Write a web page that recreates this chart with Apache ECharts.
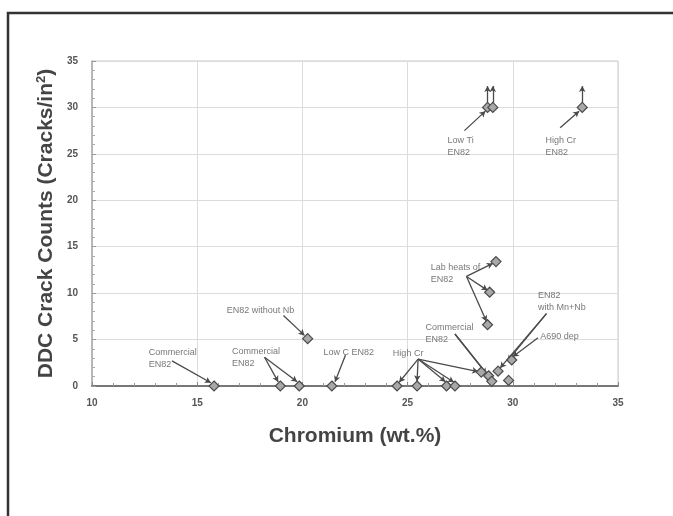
<!DOCTYPE html>
<html><head><meta charset="utf-8">
<script src="https://cdn.jsdelivr.net/npm/echarts@6/dist/echarts.min.js"></script>
<style>html,body{margin:0;padding:0;background:#fff}#c{width:673px;height:516px}</style>
</head><body><div id="c"></div>
<script>
// ---- data (Chromium wt.% vs DDC crack counts) ----
const chromium = [15.8, 18.95, 19.85, 20.25, 21.4, 24.5, 25.45, 26.85, 27.25, 28.5, 28.85, 29.0, 29.3, 29.8, 29.95, 28.8, 28.9, 29.2];
const cracks   = [0,    0,     0,     5.1,   0,    0,    0,     0,     0,     1.5,  1.1,   0.5,  1.6,  0.6,  2.8,   6.6,  10.1, 13.4];
// off-scale points (>= 30, shown with up arrows)
const offChromium = [28.8, 29.05, 33.3];
const offCracks   = [30, 30, 30];
const offArrowTop = [32.3, 32.3, 32.3];

// axis ticks
const xTicks = [10, 15, 20, 25, 30, 35];
const yTicks = [0, 5, 10, 15, 20, 25, 30, 35];

// annotation labels (text anchored top-left at data coords)
const noteText = ['Commercial\nEN82', 'Commercial\nEN82', 'EN82 without Nb', 'Low C EN82', 'High Cr',
                  'Commercial\nEN82', 'Lab heats of\nEN82', 'Low Ti\nEN82', 'High Cr\nEN82', 'EN82\nwith Mn+Nb', 'A690 dep'];
const noteX    = [12.7, 16.65, 16.4, 21.0, 24.3, 25.85, 26.1, 26.9, 31.55, 31.2, 31.3];
const noteY    = [4.3,  4.4,   8.8,  4.3,  4.1,  6.95,  13.4, 27.1, 27.1,  10.4, 6.0];

// annotation leader arrows: from -> to (data coords)
const arrowFromX = [13.8, 18.2, 18.2, 19.1, 22.05, 25.5, 25.5, 25.5, 25.5, 25.5, 27.25, 27.25, 27.8, 27.8, 27.8, 27.7, 32.25, 31.6, 31.6, 31.2];
const arrowFromY = [2.7,  3.1,  3.1,  7.6,  3.35,  2.9,  2.9,  2.9,  2.9,  2.9,  5.6,   5.6,   11.8, 11.8, 11.8, 27.5, 27.8,  7.8,  7.8,  5.2];
const arrowToX   = [15.65, 18.85, 19.75, 20.1, 21.55, 24.6, 25.45, 26.8, 27.2, 28.35, 28.75, 28.95, 29.05, 28.8, 28.75, 28.7, 33.15, 29.4, 29.75, 30.0];
const arrowToY   = [0.35,  0.45,  0.45,  5.45, 0.45,  0.4,  0.5,   0.45, 0.4,  1.55,  1.3,   0.8,   13.2,  10.3, 6.95,  29.6, 29.6,  1.95, 2.7,  3.15];

const chart = echarts.init(document.getElementById('c'), null, {renderer: 'canvas'});

const arrowData = arrowFromX.map((x, i) => [
  {coord: [x, arrowFromY[i]]},
  {coord: [arrowToX[i], arrowToY[i]]}
]);
const upArrowData = offChromium.map((x, i) => [
  {coord: [x, offCracks[i] + 0.5]},
  {coord: [x, offArrowTop[i]]}
]);

const FONT = 'Liberation Sans, Arial, sans-serif';
const tickFont = {fontFamily: FONT, fontWeight: 'bold', fontSize: 10, color: '#555'};

chart.setOption({
  animation: false,
  backgroundColor: '#fff',
  graphic: [{
    type: 'rect', silent: true,
    shape: {x: 8, y: 13, width: 700, height: 560},
    style: {fill: 'none', stroke: '#333', lineWidth: 2.5}
  }],
  grid: {left: 92, right: 55, top: 61, bottom: 130, show: true, borderColor: '#c8c8c8', borderWidth: 1},
  xAxis: {
    type: 'value', min: xTicks[0], max: xTicks[xTicks.length - 1], interval: 5,
    name: 'Chromium (wt.%)', nameLocation: 'middle', nameGap: 40,
    nameTextStyle: {fontFamily: FONT, fontWeight: 'bold', fontSize: 21, color: '#444'},
    axisLine: {show: true, onZero: false, lineStyle: {color: '#777', width: 2}},
    axisTick: {show: true, inside: true, length: 4, lineStyle: {color: '#888'}},
    minorTick: {show: true, splitNumber: 5, length: 3, lineStyle: {color: '#999'}},
    splitLine: {show: true, lineStyle: {color: '#dcdcdc'}},
    axisLabel: Object.assign({margin: 12, formatter: v => xTicks.includes(v) ? String(v) : ''}, tickFont)
  },
  yAxis: {
    type: 'value', min: yTicks[0], max: yTicks[yTicks.length - 1], interval: 5,
    name: 'DDC Crack Counts (Cracks/in{sup|2})', nameLocation: 'middle', nameGap: 34, nameRotate: 90,
    nameMoveOverlap: false,
    nameTextStyle: {fontFamily: FONT, fontWeight: 'bold', fontSize: 21, color: '#444',
      rich: {sup: {fontFamily: FONT, fontWeight: 'bold', fontSize: 13, color: '#444', verticalAlign: 'top', padding: [0, 0, 10, 0]}}},
    axisLine: {show: true, lineStyle: {color: '#aaa', width: 1.5}},
    axisTick: {show: true, inside: true, length: 4, lineStyle: {color: '#999'}},
    minorTick: {show: true, splitNumber: 5, length: 3, lineStyle: {color: '#aaa'}},
    splitLine: {show: true, lineStyle: {color: '#dcdcdc'}},
    axisLabel: Object.assign({margin: 14, formatter: v => yTicks.includes(v) ? String(v) : ''}, tickFont)
  },
  series: [
    {
      type: 'scatter', symbol: 'diamond', symbolSize: 10, silent: true,
      itemStyle: {color: '#a8a8a8', borderColor: '#4a4a4a', borderWidth: 1.2, opacity: 1},
      data: chromium.map((x, i) => [x, cracks[i]]),
      markLine: {
        silent: true, symbol: ['none', 'arrow'], symbolSize: [5, 6], animation: false,
        label: {show: false},
        lineStyle: {color: '#4a4a4a', width: 1.3, type: 'solid'},
        data: arrowData.concat(upArrowData)
      },
      z: 5
    },
    {
      type: 'scatter', symbol: 'diamond', symbolSize: 10, silent: true,
      itemStyle: {color: '#a8a8a8', borderColor: '#4a4a4a', borderWidth: 1.2, opacity: 1},
      data: offChromium.map((x, i) => [x, offCracks[i]]),
      z: 5
    },
    {
      type: 'scatter', symbolSize: 0, silent: true,
      data: noteText.map((t, i) => [noteX[i], noteY[i], t]),
      label: {
        show: true, position: [0, 0], align: 'left', verticalAlign: 'top',
        formatter: p => p.data[2],
        fontFamily: FONT, fontSize: 9, lineHeight: 12, color: '#555'
      },
      z: 6
    }
  ]
});
</script>
</body></html>
